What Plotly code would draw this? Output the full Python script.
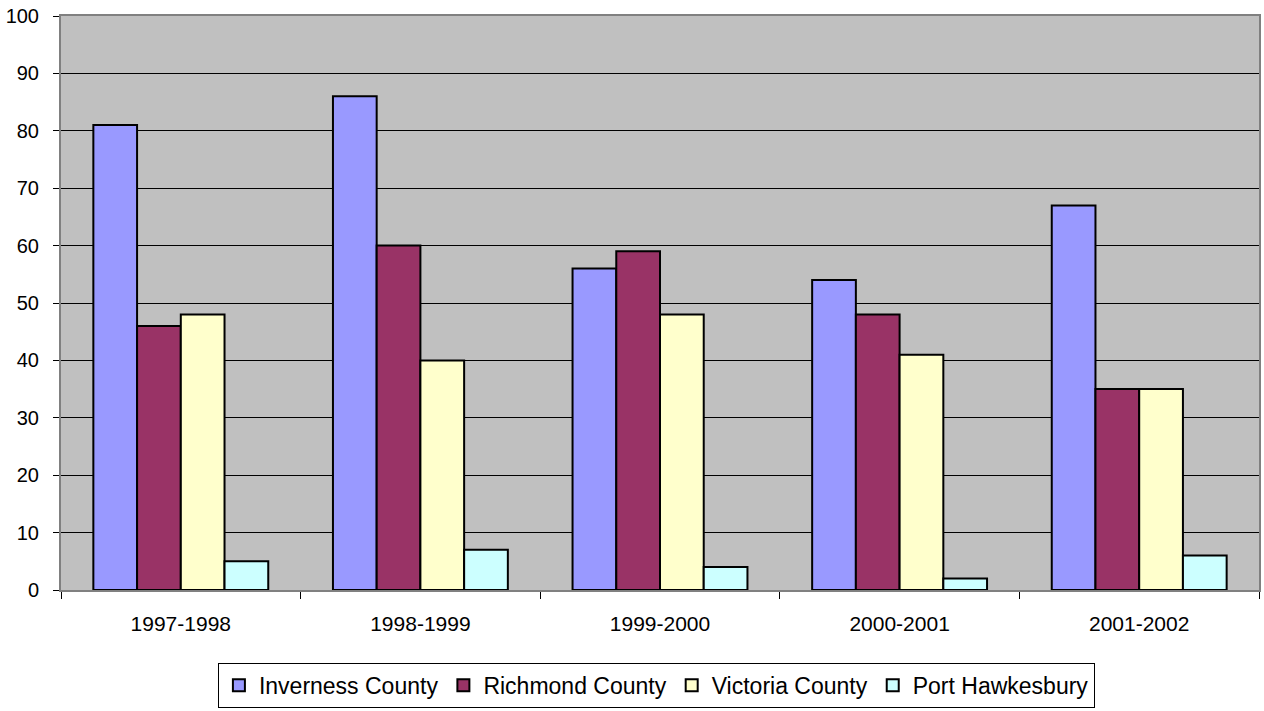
import plotly.graph_objects as go

# School years on the category axis
years = ["1997-1998", "1998-1999", "1999-2000", "2000-2001", "2001-2002"]

# One series per municipality
inverness = [81, 86, 56, 54, 67]
richmond = [46, 60, 59, 48, 35]
victoria = [48, 40, 48, 41, 35]
port_hawkesbury = [5, 7, 4, 2, 6]

series_names = ["Inverness County", "Richmond County", "Victoria County", "Port Hawkesbury"]
series_values = [inverness, richmond, victoria, port_hawkesbury]
series_colors = ["#9999FF", "#993366", "#FFFFCC", "#CCFFFF"]

y_ticks = list(range(0, 101, 10))

FONT = "Arial, Liberation Sans, sans-serif"

fig = go.Figure()
for name, vals, col in zip(series_names, series_values, series_colors):
    fig.add_trace(go.Bar(
        name=name,
        x=years,
        y=vals,
        marker=dict(color=col, line=dict(color="#000000", width=2)),
    ))

fig.update_layout(
    width=1264,
    height=711,
    barmode="group",
    bargap=0.27,
    bargroupgap=0,
    paper_bgcolor="#FFFFFF",
    plot_bgcolor="#C0C0C0",
    margin=dict(l=61, r=3, t=16, b=111),
    font=dict(family=FONT, size=20, color="#000000"),
    showlegend=True,
    legend=dict(
        orientation="h",
        x=0.497,
        xanchor="center",
        y=-0.1267,
        yanchor="top",
        bgcolor="#FFFFFF",
        bordercolor="#000000",
        borderwidth=1,
        font=dict(family=FONT, size=23, color="#000000"),
        itemwidth=30,
        traceorder="normal",
    ),
    xaxis=dict(
        showgrid=False,
        showline=True,
        linecolor="#808080",
        linewidth=2,
        mirror=True,
        ticks="outside",
        tickson="boundaries",
        ticklen=7,
        tickcolor="#000000",
        tickwidth=1,
        ticklabelstandoff=14,
        tickfont=dict(family=FONT, size=21, color="#000000"),
    ),
    yaxis=dict(
        range=[0, 100],
        tickvals=y_ticks,
        showgrid=True,
        gridcolor="#000000",
        gridwidth=1,
        zeroline=False,
        showline=True,
        linecolor="#808080",
        linewidth=2,
        mirror=True,
        ticks="outside",
        ticklen=6,
        tickcolor="#000000",
        tickwidth=1,
        ticklabelstandoff=10,
        tickfont=dict(family=FONT, size=20, color="#000000"),
    ),
)

fig.write_html("out.html")
